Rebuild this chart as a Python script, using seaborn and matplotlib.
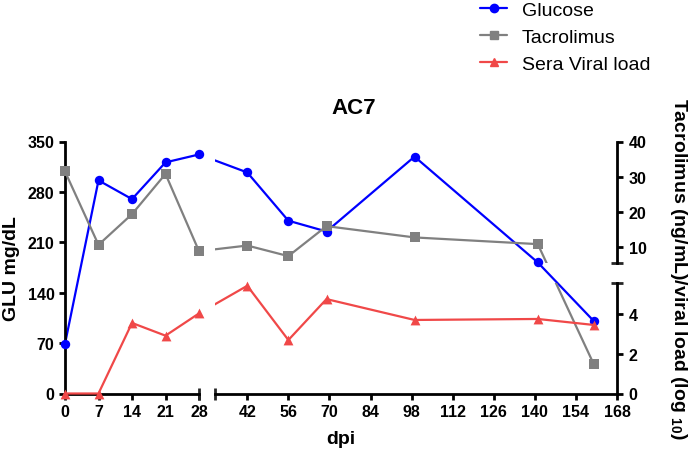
import numpy as np
import pandas as pd
import matplotlib
matplotlib.use("Agg")
import matplotlib.pyplot as plt
import seaborn as sns
from matplotlib.spines import Spine
from matplotlib.path import Path
from matplotlib.lines import Line2D

# ---------------- data ----------------
DPI_DAYS = [0, 7, 14, 21, 28, 42, 56, 69, 99, 141, 160]
GLUCOSE = [69, 296, 270, 321, 332, 307, 240, 225, 329, 182, 101]
TACROLIMUS = [31.5, 10.7, 19.4, 30.8, 8.9, 10.5, 7.5, 16.0, 12.8, 10.9, 1.5]
VIRAL_LOAD = [0, 0, 3.55, 2.91, 4.03, 5.42, 2.69, 4.75, 3.70, 3.75, 3.45]

X_TICKS = [0, 7, 14, 21, 28, 42, 56, 70, 84, 98, 112, 126, 140, 154, 168]
LEFT_TICKS = [0, 70, 140, 210, 280, 350]
RIGHT_TICKS = [0, 2, 4, 10, 20, 30, 40]
SERIES_NAMES = ["Glucose", "Tacrolimus", "Sera Viral load"]

BLUE, GREY, RED = "#0000ff", "#808080", "#f04848"

# ---------------- broken-axis scales (piecewise linear) ----------------
# x: segment 0-28 and segment 31-168 with a gap between them
X_BREAK = (28, 31)
XV = [-20, 0, 28, 31, 168, 200]
XU = [65 - 20 * 4.786, 65, 199, 215, 617, 617 + 32 * 2.934]
# right y: lower segment 0-5.56, upper segment 5.6-40
Y_BREAK = (5.56, 5.6)
YV = [-10, 0, 5.56, 5.6, 40, 60]
YU = [57.5 - 10 * 19.875, 57.5, 57.5 + 5.56 * 19.875, 203.7 - 4.4 * 3.527,
      309.5, 309.5 + 20 * 3.527]


def make_funcs(v, u):
    v = np.asarray(v, float)
    u = np.asarray(u, float)

    def fwd(x):
        return np.interp(np.asarray(x, float), v, u)

    def inv(y):
        return np.interp(np.asarray(y, float), u, v)

    return fwd, inv


def clip_to(line, ax, rects):
    verts, codes = [], []
    for x0, x1, y0, y1 in rects:
        verts += [(x0, y0), (x1, y0), (x1, y1), (x0, y1), (x0, y0)]
        codes += [Path.MOVETO, Path.LINETO, Path.LINETO, Path.LINETO, Path.CLOSEPOLY]
    line.set_clip_path(Path(verts, codes), ax.transData)
    line.set_clip_box(None)


sns.set_style("ticks")
plt.rcParams["font.family"] = ["Liberation Sans", "DejaVu Sans"]
plt.rcParams["mathtext.fontset"] = "custom"
plt.rcParams["mathtext.rm"] = "Liberation Sans"
plt.rcParams["mathtext.bf"] = "Liberation Sans:bold"
plt.rcParams["text.color"] = "black"
plt.rcParams["axes.labelcolor"] = "black"

df = pd.DataFrame({"dpi": DPI_DAYS, "glu": GLUCOSE,
                   "tac": TACROLIMUS, "vl": VIRAL_LOAD})

W, H = 690, 452
fig = plt.figure(figsize=(W / 100, H / 100), dpi=100)
ax = fig.add_axes([65 / W, 57.5 / H, 552 / W, 252 / H])
ax.set_xscale("function", functions=make_funcs(XV, XU))
ax.set_xlim(0, 168)
ax.set_ylim(0, 350)

axr = ax.twinx()
axr.set_xscale("function", functions=make_funcs(XV, XU))
axr.set_xlim(0, 168)
axr.set_yscale("function", functions=make_funcs(YV, YU))
axr.set_ylim(0, 40)

LW = 1.6
# glucose (left axis)
sns.lineplot(data=df, x="dpi", y="glu", ax=ax, color=BLUE, linewidth=LW,
             errorbar=None, legend=False, zorder=2)
clip_to(ax.lines[-1], ax, [(-5, X_BREAK[0], -50, 400), (X_BREAK[1], 180, -50, 400)])
sns.scatterplot(data=df, x="dpi", y="glu", ax=ax, color=BLUE, marker="o",
                s=46, linewidth=0, clip_on=False, zorder=3, legend=False)

# tacrolimus and viral load (right broken axis)
right_rects = [(-5, X_BREAK[0], -5, Y_BREAK[0]), (X_BREAK[1], 180, -5, Y_BREAK[0]),
               (-5, X_BREAK[0], Y_BREAK[1], 55), (X_BREAK[1], 180, Y_BREAK[1], 55)]
sns.lineplot(data=df, x="dpi", y="tac", ax=axr, color=GREY, linewidth=LW,
             errorbar=None, legend=False, zorder=2)
clip_to(axr.lines[-1], axr, right_rects)
sns.scatterplot(data=df, x="dpi", y="tac", ax=axr, color=GREY, marker="s",
                s=46, linewidth=0, clip_on=False, zorder=3, legend=False)
sns.lineplot(data=df, x="dpi", y="vl", ax=axr, color=RED, linewidth=LW,
             errorbar=None, legend=False, zorder=2)
clip_to(axr.lines[-1], axr, right_rects)
sns.scatterplot(data=df, x="dpi", y="vl", ax=axr, color=RED, marker="^",
                s=50, linewidth=0, clip_on=False, zorder=3, legend=False)

# ---------------- axes decoration ----------------
SPW = 2.0
for s in ["top", "right"]:
    ax.spines[s].set_visible(False)
ax.spines["left"].set_bounds(0, 350)
ax.spines["bottom"].set_bounds(0, X_BREAK[0])
b2 = Spine.linear_spine(ax, "bottom")
ax.spines["bottom2"] = b2
b2.set_position(("outward", 0))
b2.set_bounds(X_BREAK[1], 168)
for s in ["left", "bottom", "bottom2"]:
    ax.spines[s].set_linewidth(SPW)
    ax.spines[s].set_color("black")

for s in ["top", "left", "bottom"]:
    axr.spines[s].set_visible(False)
axr.spines["right"].set_bounds(0, Y_BREAK[0])
r2 = Spine.linear_spine(axr, "right")
axr.spines["right2"] = r2
r2.set_position(("outward", 0))
r2.set_bounds(Y_BREAK[1], 40)
for s in ["right", "right2"]:
    axr.spines[s].set_linewidth(SPW)
    axr.spines[s].set_color("black")

ax.set_xticks(X_TICKS, labels=[str(t) for t in X_TICKS])
ax.set_xticks(list(X_BREAK), minor=True)
ax.xaxis.remove_overlapping_locs = False
ax.set_yticks(LEFT_TICKS, labels=[str(t) for t in LEFT_TICKS])
ax.tick_params(axis="both", which="major", direction="out", length=4.5,
               width=SPW, labelsize=11.5, pad=3, colors="black")
ax.tick_params(axis="x", which="minor", direction="inout", length=9, width=SPW)

axr.set_yticks(RIGHT_TICKS, labels=[str(t) for t in RIGHT_TICKS])
axr.set_yticks(list(Y_BREAK), minor=True)
axr.yaxis.remove_overlapping_locs = False
axr.tick_params(axis="y", which="major", direction="out", length=4.5,
                width=SPW, labelsize=11.5, pad=4, colors="black")
axr.tick_params(axis="y", which="minor", direction="inout", length=9, width=SPW)

for lab in ax.get_xticklabels() + ax.get_yticklabels() + axr.get_yticklabels():
    lab.set_fontweight("bold")

ax.set_xlabel("dpi", fontsize=14, fontweight="bold", va="center", color="black")
ax.xaxis.set_label_coords(0.5, (394.5 - 440) / 252)
ax.set_ylabel("GLU mg/dL", fontsize=14, fontweight="bold", va="center", color="black")
ax.yaxis.set_label_coords((11.5 - 65) / 552, 0.5)
axr.set_ylabel(r"Tacrolimus (ng/mL)/viral load (log $_{\mathbf{10}}$)",
               fontsize=14, fontweight="bold", rotation=270, va="center",
               ha="center", color="black")
axr.yaxis.set_label_coords((679 - 65) / 552, 0.5)

ax.set_title("AC7", fontsize=16, fontweight="bold", x=(354 - 65) / 552,
             y=(394.5 - 109) / 252, pad=0, va="center", color="black")

handles = [
    Line2D([], [], color=BLUE, marker="o", lw=LW, ms=6),
    Line2D([], [], color=GREY, marker="s", lw=LW, ms=6),
    Line2D([], [], color=RED, marker="^", lw=LW, ms=6),
]
fig.legend(handles=handles, labels=SERIES_NAMES, loc="upper left",
           bbox_to_anchor=(480 / W, 1.0 - 2.0 / H), frameon=False, fontsize=14,
           handlelength=1.4, handletextpad=0.75, labelspacing=0.48,
           borderpad=0, borderaxespad=0, labelcolor="black")

fig.savefig("out.png", dpi=100)
